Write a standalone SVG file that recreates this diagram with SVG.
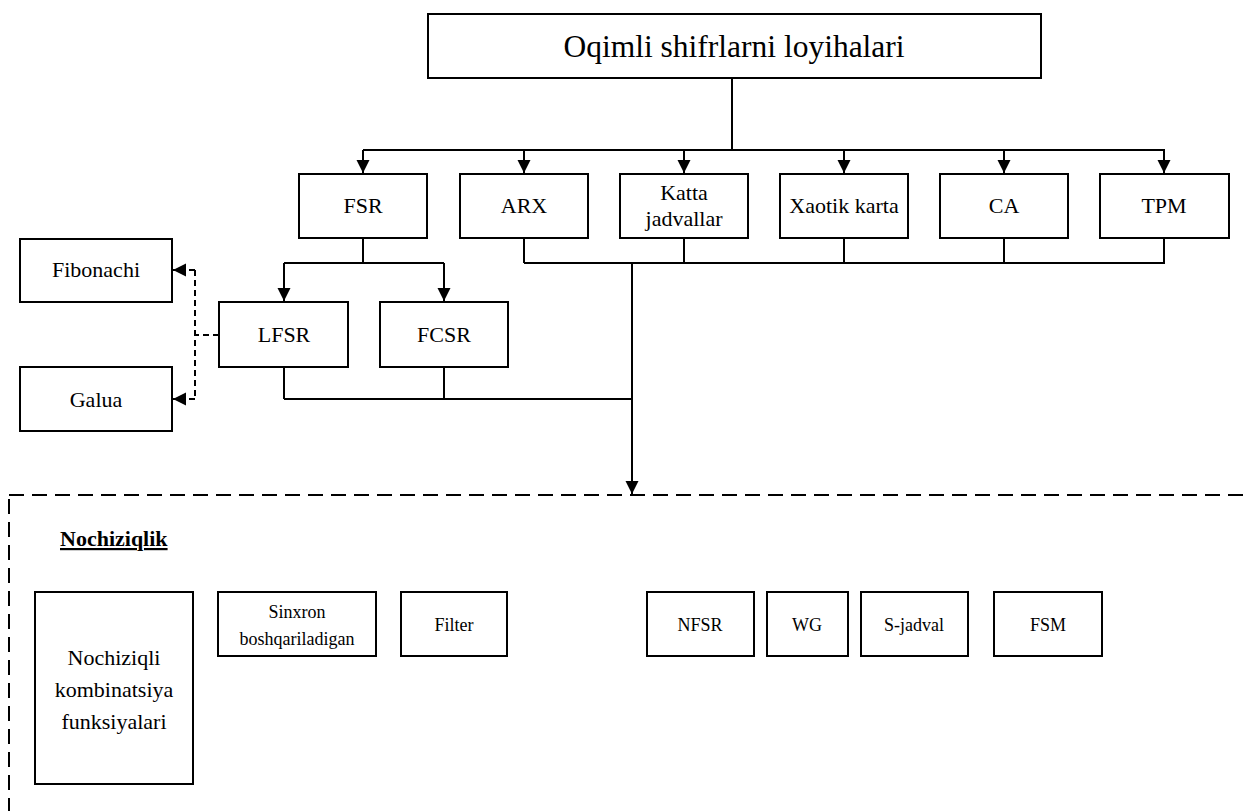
<svg xmlns="http://www.w3.org/2000/svg" width="1245" height="811" viewBox="0 0 1245 811">
  <defs>
    <marker id="arrow" markerUnits="userSpaceOnUse" markerWidth="14" markerHeight="14" refX="13" refY="6.5" orient="auto">
      <path d="M0,0 L13,6.5 L0,13 Z" fill="#000"/>
    </marker>
    <style>
      .box { fill: #fff; stroke: #000; stroke-width: 2; }
      .t { font-family: "Liberation Serif", "Times New Roman", serif; fill: #000; text-anchor: middle; }
      .t22 { font-size: 22px; }
      .t18 { font-size: 18px; }
      .line { fill: none; stroke: #000; stroke-width: 2; }
      .dash { fill: none; stroke: #000; stroke-width: 2; stroke-dasharray: 6 4; }
      .frame { fill: none; stroke: #000; stroke-width: 2; stroke-dasharray: 15 8; }
    </style>
  </defs>
  <rect width="1245" height="811" fill="#fff"/>

  <!-- connectors -->
  <g id="connectors">
    <path class="line" d="M732,78 V150 M363,150 H1165"/>
    <path class="line" d="M363,150 V173" marker-end="url(#arrow)"/>
    <path class="line" d="M524,150 V173" marker-end="url(#arrow)"/>
    <path class="line" d="M684,150 V173" marker-end="url(#arrow)"/>
    <path class="line" d="M844,150 V173" marker-end="url(#arrow)"/>
    <path class="line" d="M1004,150 V173" marker-end="url(#arrow)"/>
    <path class="line" d="M1164,150 V173" marker-end="url(#arrow)"/>
    <!-- FSR split -->
    <path class="line" d="M363,238 V263 M284,263 H444"/>
    <path class="line" d="M284,263 V301" marker-end="url(#arrow)"/>
    <path class="line" d="M444,263 V301" marker-end="url(#arrow)"/>
    <!-- merge of remaining generators -->
    <path class="line" d="M524,238 V263 M684,238 V263 M844,238 V263 M1004,238 V263 M1164,238 V263 M524,263 H1165"/>
    <path class="line" d="M284,367 V399 M444,367 V399 M284,399 H632"/>
    <path class="line" d="M632,263 V494" marker-end="url(#arrow)"/>
    <!-- LFSR variants -->
    <path class="dash" d="M219,335 H195 M195,270 V399"/>
    <path class="dash" d="M195,270 H173" marker-end="url(#arrow)"/>
    <path class="dash" d="M195,399 H173" marker-end="url(#arrow)"/>
  </g>

  <!-- root -->
  <g id="root">
    <rect class="box" x="428" y="14" width="613" height="64"/>
    <text class="t" x="734" y="57" font-size="31.5">Oqimli shifrlarni loyihalari</text>
  </g>

  <!-- generator families -->
  <g id="fsr">
    <rect class="box" x="299" y="174" width="128" height="64"/>
    <text class="t t22" x="363" y="213">FSR</text>
  </g>
  <g id="arx">
    <rect class="box" x="460" y="174" width="128" height="64"/>
    <text class="t t22" x="524" y="213">ARX</text>
  </g>
  <g id="katta">
    <rect class="box" x="620" y="174" width="128" height="64"/>
    <text class="t t22" x="684" y="200">Katta</text>
    <text class="t t22" x="684" y="226">jadvallar</text>
  </g>
  <g id="xaotik">
    <rect class="box" x="780" y="174" width="128" height="64"/>
    <text class="t t22" x="844" y="213">Xaotik karta</text>
  </g>
  <g id="ca">
    <rect class="box" x="940" y="174" width="128" height="64"/>
    <text class="t t22" x="1004" y="213">CA</text>
  </g>
  <g id="tpm">
    <rect class="box" x="1100" y="174" width="129" height="64"/>
    <text class="t t22" x="1164" y="213">TPM</text>
  </g>

  <!-- shift registers -->
  <g id="lfsr">
    <rect class="box" x="219" y="302" width="129" height="65"/>
    <text class="t t22" x="284" y="342">LFSR</text>
  </g>
  <g id="fcsr">
    <rect class="box" x="380" y="302" width="128" height="65"/>
    <text class="t t22" x="444" y="342">FCSR</text>
  </g>
  <g id="fibonachi">
    <rect class="box" x="20" y="239" width="152" height="63"/>
    <text class="t t22" x="96" y="277">Fibonachi</text>
  </g>
  <g id="galua">
    <rect class="box" x="20" y="367" width="152" height="64"/>
    <text class="t t22" x="96" y="407">Galua</text>
  </g>

  <!-- nonlinearity group -->
  <g id="nochiziqlik">
    <rect class="frame" x="9" y="495" width="1300" height="400"/>
    <text x="60" y="546" font-family="&quot;Liberation Serif&quot;, &quot;Times New Roman&quot;, serif" font-size="22" font-weight="bold" text-decoration="underline">Nochiziqlik</text>
  </g>
  <g id="kombinatsiya">
    <rect class="box" x="35" y="592" width="158" height="192"/>
    <text class="t t22" x="114" y="665">Nochiziqli</text>
    <text class="t t22" x="114" y="697">kombinatsiya</text>
    <text class="t t22" x="114" y="729">funksiyalari</text>
  </g>
  <g id="sinxron">
    <rect class="box" x="218" y="592" width="158" height="64"/>
    <text class="t t18" x="297" y="618">Sinxron</text>
    <text class="t t18" x="297" y="645">boshqariladigan</text>
  </g>
  <g id="filter">
    <rect class="box" x="401" y="592" width="106" height="64"/>
    <text class="t t18" x="454" y="631">Filter</text>
  </g>
  <g id="nfsr">
    <rect class="box" x="647" y="592" width="107" height="64"/>
    <text class="t t18" x="700" y="631">NFSR</text>
  </g>
  <g id="wg">
    <rect class="box" x="767" y="592" width="81" height="64"/>
    <text class="t t18" x="807" y="631">WG</text>
  </g>
  <g id="sjadval">
    <rect class="box" x="861" y="592" width="107" height="64"/>
    <text class="t t18" x="914" y="631">S-jadval</text>
  </g>
  <g id="fsm">
    <rect class="box" x="994" y="592" width="108" height="64"/>
    <text class="t t18" x="1048" y="631">FSM</text>
  </g>
</svg>
